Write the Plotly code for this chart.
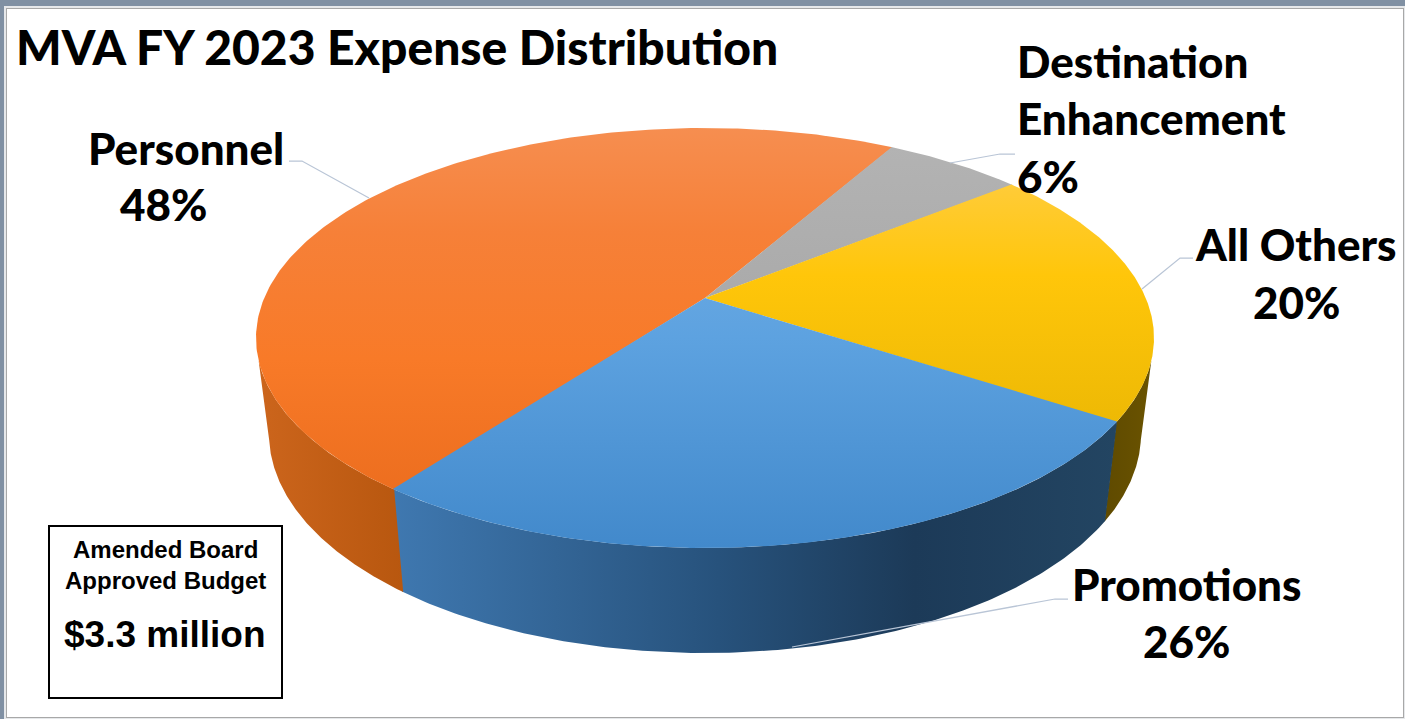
import numpy as np
import plotly.graph_objects as go

# Expense shares, listed clockwise from the top of the pie
categories = ["Destination Enhancement", "All Others", "Promotions", "Personnel"]
shares = [6, 20, 26, 48]

title_text = "MVA FY 2023 Expense Distribution"
budget_lines = ["Amended Board", "Approved Budget", "$3.3 million"]

# Vertical gradient of each top face and horizontal gradient of each side wall
top_colors = [
    [[0, "#b4b4b4"], [1, "#9c9c9c"]],
    [[0, "#ffcf55"], [0.35, "#ffc60a"], [1, "#dfae00"]],
    [[0, "#7cb2e4"], [0.5, "#5da2e0"], [1, "#4289cb"]],
    [[0, "#f68e50"], [0.25, "#f68038"], [0.55, "#f87a28"], [1, "#e8691b"]],
]
wall_colors = [
    None,
    [[0, "#5f4a00"], [1, "#6a5300"]],
    [[0, "#3f78b0"], [0.45, "#27527c"], [0.72, "#1c3a58"], [1, "#234562"]],
    [[0, "#cc651c"], [1, "#b8570f"]],
]

WIDTH, HEIGHT = 1405, 719
START_ANGLE = 60.5
SEAM_PAD = 0.2  # degrees of overlap that hide hairlines between neighbouring slices
TILT = 0.19  # how far the pie's hub sits above the middle of its rim, as a fraction of ry
TOP = dict(cx=705, cy=338, rx=449, ry=210)
BOTTOM = dict(cx=705, cy=434, rx=436, ry=219)
# Where the visible wall ends on each rim: the straight silhouette joins these angles
TOP_WALL_RANGE = (-163, -17)
BOTTOM_WALL_RANGE = (-167.5, -12.5)


def rim(theta_deg, cx, cy, rx, ry):
    """Perspective view of a circle: maps angles on the disc onto an ellipse."""
    t = np.radians(theta_deg)
    x, y = np.cos(t), np.sin(t)
    d = 1 + TILT * y
    return cx + rx * x * np.sqrt(1 - TILT**2) / d, cy - ry * (y + TILT) / d


def hub(cx, cy, rx, ry):
    return cx, cy - ry * TILT


def rim_arc(hi, lo, bounds, shape):
    hi_v, lo_v = min(hi, bounds[1]), max(lo, bounds[0])
    return rim(np.linspace(hi_v, lo_v, 160), **shape)


fig = go.Figure()

# Slice boundaries, going clockwise
edges = START_ANGLE - np.cumsum([0] + shares) * 3.6
spans = list(zip(edges[:-1], edges[1:]))

# Side walls first, so the top faces sit over them
for (hi, lo), colors in zip(spans, wall_colors):
    if colors is None:
        continue
    lo = lo - SEAM_PAD
    xt, yt = rim_arc(hi, lo, TOP_WALL_RANGE, TOP)
    xb, yb = rim_arc(hi, lo, BOTTOM_WALL_RANGE, BOTTOM)
    xs = np.r_[xt, xb[::-1], xt[0]]
    ys = np.r_[yt, yb[::-1], yt[0]]
    fig.add_trace(go.Scatter(
        x=xs, y=ys, mode="lines", fill="toself", line=dict(width=0),
        fillgradient=dict(type="horizontal", colorscale=colors,
                          start=float(xs.min()), stop=float(xs.max())),
        hoverinfo="skip", showlegend=False,
    ))

# Top faces: Personnel goes first and every slice runs slightly under the next one
y_top = TOP["cy"] - TOP["ry"]
y_bot = TOP["cy"] + TOP["ry"]
hx, hy = hub(**TOP)
for i in (3, 0, 1, 2):
    hi, lo = spans[i]
    th = np.linspace(hi + (SEAM_PAD if i == 3 else 0), lo - SEAM_PAD, 240)
    xr, yr = rim(th, **TOP)
    fig.add_trace(go.Scatter(
        x=np.r_[hx, xr, hx], y=np.r_[hy, yr, hy], mode="lines", fill="toself",
        line=dict(width=0), name=categories[i],
        fillgradient=dict(type="vertical", colorscale=top_colors[i], start=y_top, stop=y_bot),
        hoverinfo="skip", showlegend=False,
    ))

# Leader lines from each label to its slice
leaders = [
    ([1015, 1000, 950], [154, 154, 163]),
    ([1193, 1180, 1142], [258, 258, 289]),
    ([1068, 1055, 792], [599, 599, 647]),
    ([289, 302, 369], [161, 161, 198]),
]
for lx, ly in leaders:
    fig.add_trace(go.Scatter(x=lx, y=ly, mode="lines",
                             line=dict(color="#b9c5d6", width=1.25),
                             hoverinfo="skip", showlegend=False))

LABEL_FONT = dict(family="Lato", size=44, color="black", weight=900)
BOX_FONT = dict(family="Liberation Sans", color="black", weight=700)


def text(x, y, s, font, anchor="center"):
    fig.add_annotation(x=x, y=y, text=s, showarrow=False, xanchor=anchor, yanchor="middle",
                       font=font, xref="x", yref="y")


pct = [f"{v}%" for v in shares]
text(1015, 61, "Destination", LABEL_FONT, "left")
text(1015, 118, "Enhancement", LABEL_FONT, "left")
text(1015, 176, pct[0], LABEL_FONT, "left")
text(1296, 244, categories[1], LABEL_FONT)
text(1296, 302, pct[1], LABEL_FONT)
text(1186, 584, categories[2], LABEL_FONT)
text(1186, 641, pct[2], LABEL_FONT)
text(186, 148, categories[3], LABEL_FONT)
text(163, 204, pct[3], LABEL_FONT)

text(165, 549, budget_lines[0], dict(BOX_FONT, size=24))
text(165, 580, budget_lines[1], dict(BOX_FONT, size=24))
text(165, 634, budget_lines[2], dict(BOX_FONT, size=37))

fig.update_layout(
    width=WIDTH, height=HEIGHT,
    margin=dict(l=0, r=0, t=0, b=0),
    paper_bgcolor="#8090a3", plot_bgcolor="rgba(0,0,0,0)",
    title=dict(text=title_text, x=16 / WIDTH, xanchor="left", xref="paper",
               y=1 - 48 / HEIGHT, yanchor="middle", yref="paper",
               font=dict(family="Lato", size=48, color="black", weight=900)),
    xaxis=dict(range=[0, WIDTH], visible=False, fixedrange=True),
    yaxis=dict(range=[HEIGHT, 0], visible=False, fixedrange=True),
    shapes=[
        dict(type="rect", xref="x", yref="y", x0=4, y0=6, x1=1405, y1=719, layer="below",
             fillcolor="#e6e8ea", line=dict(width=0)),
        dict(type="rect", xref="x", yref="y", x0=6, y0=8, x1=1404, y1=718, layer="below",
             fillcolor="#a8a8a8", line=dict(width=0)),
        dict(type="rect", xref="x", yref="y", x0=7, y0=9, x1=1403, y1=717, layer="below",
             fillcolor="white", line=dict(width=0)),
        dict(type="rect", xref="x", yref="y", x0=49, y0=526, x1=282, y1=698, layer="below",
             fillcolor="white", line=dict(color="black", width=2)),
    ],
)

fig.write_html("out.html")
